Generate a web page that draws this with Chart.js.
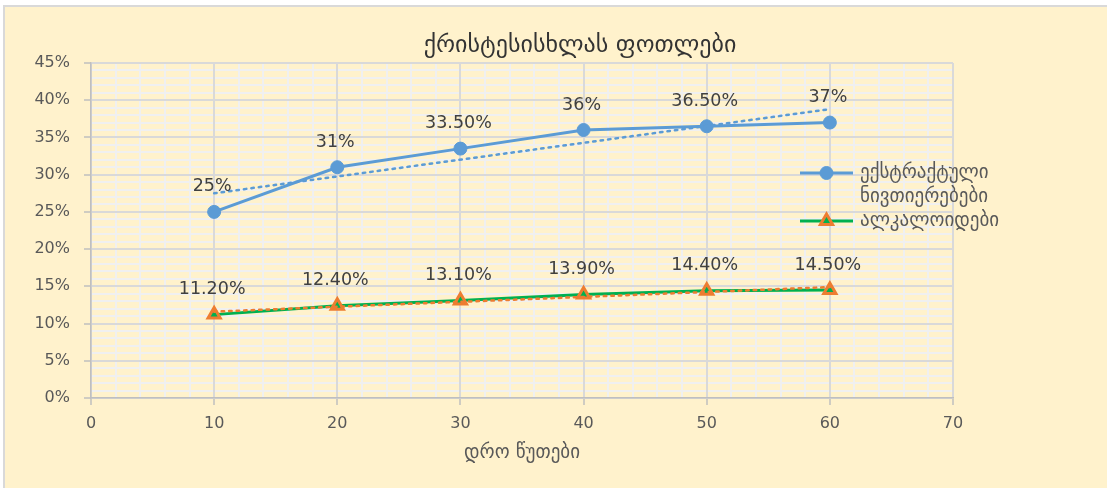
<!DOCTYPE html>
<html><head><meta charset="utf-8">
<script src="https://cdn.jsdelivr.net/npm/chart.js@4"></script>
<style>
html,body{margin:0;padding:0;background:#fff;}
#wrap{position:relative;width:1107px;height:488px;overflow:hidden;}
#bg{position:absolute;left:3px;top:5px;right:0;bottom:0;background:#FFF2CC;border-left:2px solid #D9D9D9;border-top:2px solid #D9D9D9;}
canvas{position:absolute;left:0;top:0;}
</style></head>
<body><div id="wrap"><div id="bg"></div><canvas id="c" width="1107" height="488"></canvas></div>
<script>
// ---- data ----
const minutes = [10, 20, 30, 40, 50, 60];
const extractives = [25, 31, 33.5, 36, 36.5, 37];
const alkaloids = [11.2, 12.4, 13.1, 13.9, 14.4, 14.5];
const trendX = [10, 60];
const extractivesTrend = [27.5, 38.8];
const alkaloidsTrend = [11.6, 14.9];
const seriesNames = ['ექსტრაქტული ნივთიერებები', 'ალკალოიდები'];
const chartTitle = 'ქრისტესისხლას ფოთლები';
const xTitle = 'დრო წუთები';
const xRange = [0, 70, 10];   // min, max, step
const yRange = [0, 45, 5];

const GEO = '"DejaVu Sans"';
const BLUE = '#5B9BD5', GREEN = '#00B050', ORANGE = '#ED7D31';

const pts = (xs, ys) => xs.map((x, i) => ({x, y: ys[i]}));
const fmt = v => (Number.isInteger(v) ? String(v) : v.toFixed(2)) + '%';

const minorGrid = {
  id: 'minorGrid',
  beforeDraw(chart) {
    const {ctx, chartArea: a, scales: {x, y}} = chart;
    ctx.save();
    ctx.strokeStyle = '#F0F0F0';
    ctx.lineWidth = 2;
    ctx.beginPath();
    for (let v = yRange[0]; v <= yRange[1]; v += 1) {
      if (v % yRange[2] === 0) continue;
      const py = Math.round(y.getPixelForValue(v));
      ctx.moveTo(a.left, py); ctx.lineTo(a.right, py);
    }
    for (let v = xRange[0]; v <= xRange[1]; v += 2) {
      if (v % xRange[2] === 0) continue;
      const px = Math.round(x.getPixelForValue(v));
      ctx.moveTo(px, a.top); ctx.lineTo(px, a.bottom);
    }
    ctx.stroke();
    ctx.restore();
  }
};

const titleText = {
  id: 'titleText',
  afterDraw(chart) {
    const {ctx} = chart;
    ctx.save();
    ctx.font = '24px ' + GEO;
    ctx.fillStyle = '#333333';
    ctx.textAlign = 'center';
    ctx.textBaseline = 'middle';
    ctx.fillText(chartTitle, 580, 46);
    ctx.restore();
  }
};

const pointLabels = {
  id: 'pointLabels',
  afterDatasetsDraw(chart) {
    const {ctx} = chart;
    ctx.save();
    ctx.font = '17.5px ' + GEO;
    ctx.fillStyle = '#404040';
    ctx.textAlign = 'center';
    ctx.textBaseline = 'middle';
    chart.data.datasets.forEach((ds, i) => {
      if (!ds.showValues) return;
      chart.getDatasetMeta(i).data.forEach((el, j) => {
        ctx.fillText(fmt(ds.data[j].y), el.x - 2, el.y - 25);
      });
    });
    ctx.restore();
  }
};

const sideLegend = {
  id: 'sideLegend',
  afterDraw(chart) {
    const {ctx} = chart;
    ctx.save();
    ctx.font = '19px ' + GEO;
    ctx.textBaseline = 'middle';
    ctx.textAlign = 'left';
    const x0 = 800, x1 = 853, tx = 860;
    let yy = 173;
    chart.data.datasets.forEach((ds) => {
      if (!ds.showValues) return;
      ctx.strokeStyle = ds.borderColor;
      ctx.lineWidth = 3;
      ctx.beginPath(); ctx.moveTo(x0, yy); ctx.lineTo(x1, yy); ctx.stroke();
      ctx.fillStyle = ds.pointBackgroundColor; ctx.strokeStyle = ds.pointBorderColor;
      ctx.lineWidth = ds.pointBorderWidth;
      Chart.helpers.drawPoint(ctx, {pointStyle: ds.pointStyle, radius: ds.pointRadius, borderWidth: ds.pointBorderWidth, rotation: 0}, (x0 + x1) / 2, yy);
      ctx.fillStyle = '#595959';
      const lines = ds.label.split(' ');
      lines.forEach((t, k) => ctx.fillText(t, tx, yy + k * 24));
      yy = 221;
    });
    ctx.restore();
  }
};

new Chart(document.getElementById('c'), {
  type: 'line',
  data: {
    datasets: [
      {label: seriesNames[0] + ' trend', data: pts(trendX, extractivesTrend), borderColor: BLUE, borderWidth: 2.5,
       borderDash: [2.5, 5], borderCapStyle: 'round', pointRadius: 0, order: 0},
      {label: seriesNames[1] + ' trend', data: pts(trendX, alkaloidsTrend), borderColor: ORANGE, borderWidth: 2.5,
       borderDash: [2.5, 5], borderCapStyle: 'round', pointRadius: 0, order: 0},
      {label: seriesNames[0], data: pts(minutes, extractives), borderColor: BLUE, borderWidth: 3,
       pointStyle: 'circle', pointRadius: 6.5, pointBackgroundColor: BLUE, pointBorderColor: BLUE, pointBorderWidth: 1,
       showValues: true, order: 2},
      {label: seriesNames[1], data: pts(minutes, alkaloids), borderColor: GREEN, borderWidth: 3,
       pointStyle: 'triangle', pointRadius: 7, pointBackgroundColor: GREEN, pointBorderColor: ORANGE, pointBorderWidth: 3,
       showValues: true, order: 1}
    ]
  },
  options: {
    responsive: false,
    animation: false,
    events: [],
    layout: {padding: {left: 10, right: 154, top: 63, bottom: 0}},
    plugins: {
      legend: {display: false},
      tooltip: {enabled: false},
      title: {display: false}
    },
    scales: {
      x: {
        type: 'linear', min: xRange[0], max: xRange[1],
        ticks: {stepSize: xRange[2], color: '#595959', font: {family: GEO, size: 16}, padding: 9},
        grid: {color: '#D9D9D9', lineWidth: 2, drawTicks: true, tickLength: 7, tickColor: '#BFBFBF', tickWidth: 1.5},
        border: {color: '#BFBFBF', width: 1.5},
        title: {display: true, text: xTitle, color: '#595959', font: {family: GEO, size: 19}, padding: {top: 4, bottom: 24}},
        afterFit(s) { s.height = 90; }
      },
      y: {
        min: yRange[0], max: yRange[1],
        ticks: {stepSize: yRange[2], color: '#595959', font: {family: GEO, size: 16}, padding: 14,
                callback: v => v + '%'},
        grid: {color: '#D9D9D9', lineWidth: 2, drawTicks: true, tickLength: 7, tickColor: '#BFBFBF', tickWidth: 1.5},
        border: {color: '#BFBFBF', width: 1.5},
        afterFit(s) { s.width = 81; }
      }
    }
  },
  plugins: [minorGrid, titleText, pointLabels, sideLegend]
});
</script>
</body></html>
